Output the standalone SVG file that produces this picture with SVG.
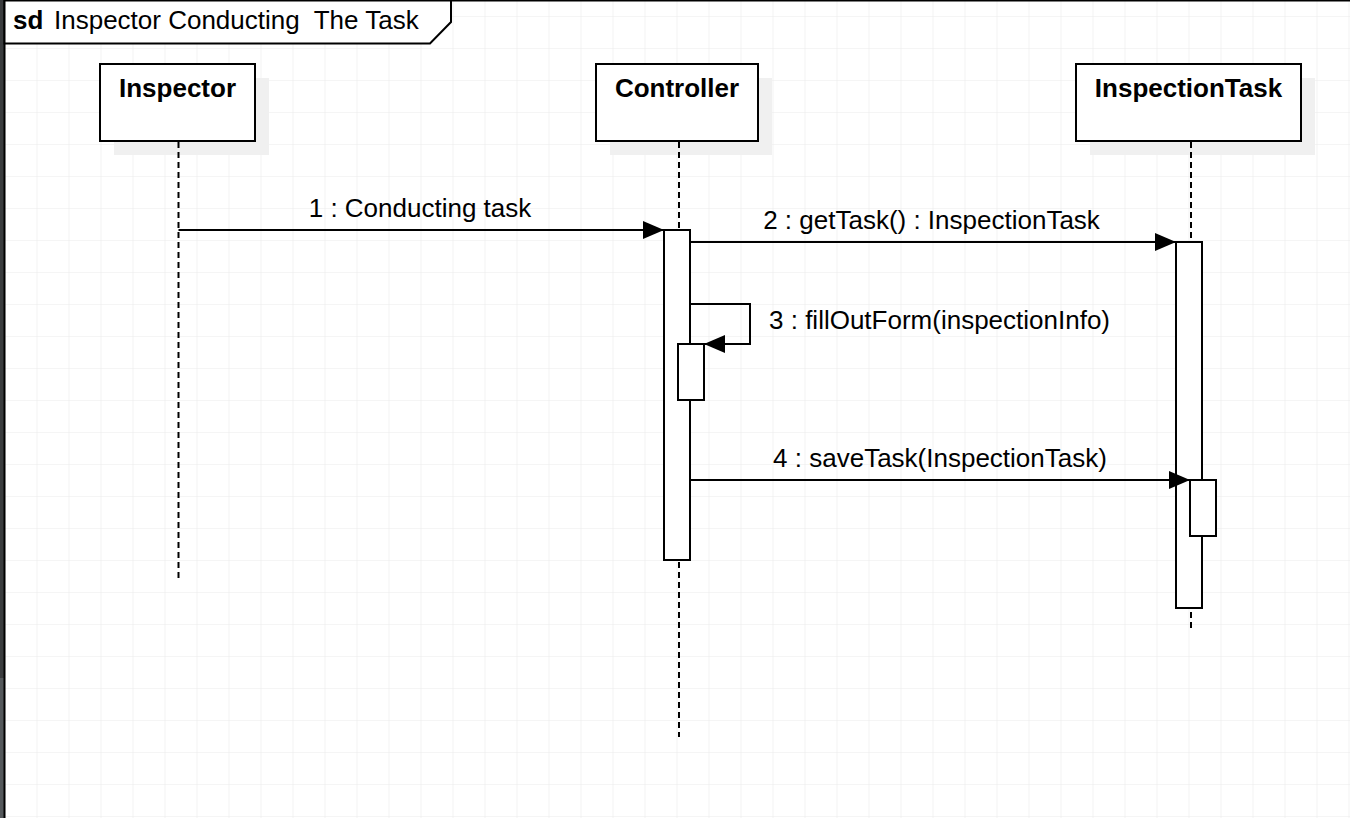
<svg xmlns="http://www.w3.org/2000/svg" width="1350" height="818" viewBox="0 0 1350 818">
  <defs>
    <pattern id="grid" x="4.5" y="16" width="32" height="32" patternUnits="userSpaceOnUse">
      <path d="M0,0 H32 M0,0 V32" fill="none" stroke="#ebebeb" stroke-width="1.2"/>
    </pattern>
    <marker id="arrow" viewBox="0 0 21 18" refX="21" refY="9" markerWidth="21" markerHeight="18" markerUnits="userSpaceOnUse" orient="auto">
      <path d="M0,0 L21,9 L0,18 z" fill="#000"/>
    </marker>
    <style>
      text { font-family: "Liberation Sans", Arial, sans-serif; font-size: 26px; fill: #000; }
      .head { font-weight: bold; text-anchor: middle; }
      .box { fill: #fff; stroke: #000; stroke-width: 2; }
      .shadow { fill: #f0f0f0; stroke: none; }
      .life { stroke: #000; stroke-width: 2; stroke-dasharray: 6 4; fill: none; }
      .act { fill: #fff; stroke: #000; stroke-width: 2; }
      .msg { fill: none; stroke: #000; stroke-width: 2; marker-end: url(#arrow); }
      .lbl { text-anchor: middle; }
    </style>
  </defs>

  <rect x="0" y="0" width="1350" height="818" fill="#fff"/>
  <rect x="4.5" y="0" width="1346" height="818" fill="url(#grid)"/>
  <rect x="0" y="0" width="4" height="678" fill="#3a3c3e"/>
  <rect x="0" y="678" width="4" height="140" fill="#54585b"/>

  <g id="frame">
    <path d="M4.5,0.5 H1350" stroke="#000" stroke-width="2" fill="none"/>
    <path d="M4.5,0 V818" stroke="#000" stroke-width="2" fill="none"/>
    <path d="M4.5,0.5 H451 V22 L430,43.5 H4.5 Z" fill="#fff" stroke="#000" stroke-width="2"/>
    <text x="13" y="29" font-weight="bold">sd</text>
    <text x="54" y="29" xml:space="preserve">Inspector Conducting  The Task</text>
  </g>

  <g id="lifeline-inspector">
    <rect class="shadow" x="114" y="78" width="155" height="77"/>
    <rect class="box" x="100" y="64" width="155" height="77"/>
    <text class="head" x="177.5" y="97">Inspector</text>
    <line class="life" x1="178.5" y1="142" x2="178.5" y2="582"/>
  </g>

  <g id="lifeline-controller">
    <rect class="shadow" x="610" y="78" width="162" height="77"/>
    <rect class="box" x="596" y="64" width="162" height="77"/>
    <text class="head" x="677" y="97">Controller</text>
    <line class="life" x1="679" y1="142" x2="679" y2="737"/>
    <rect class="act" x="664" y="230" width="26" height="330"/>
    <rect class="act" x="678" y="344" width="26" height="56"/>
  </g>

  <g id="lifeline-inspectiontask">
    <rect class="shadow" x="1090" y="78" width="225" height="77"/>
    <rect class="box" x="1076" y="64" width="225" height="77"/>
    <text class="head" x="1188.5" y="97">InspectionTask</text>
    <line class="life" x1="1191" y1="142" x2="1191" y2="630"/>
    <rect class="act" x="1176" y="242" width="26" height="366"/>
    <rect class="act" x="1190" y="480" width="26" height="56"/>
  </g>

  <g id="connectors">
    <line class="msg" x1="178.5" y1="230" x2="664" y2="230"/>
    <line class="msg" x1="690" y1="242" x2="1176" y2="242"/>
    <polyline class="msg" points="690,304 750,304 750,344 704,344"/>
    <line class="msg" x1="690" y1="480" x2="1190" y2="480"/>
    <text class="lbl" x="420" y="217">1 : Conducting task</text>
    <text class="lbl" x="931.5" y="229">2 : getTask() : InspectionTask</text>
    <text x="769" y="329">3 : fillOutForm(inspectionInfo)</text>
    <text class="lbl" x="940" y="467">4 : saveTask(InspectionTask)</text>
  </g>
</svg>
